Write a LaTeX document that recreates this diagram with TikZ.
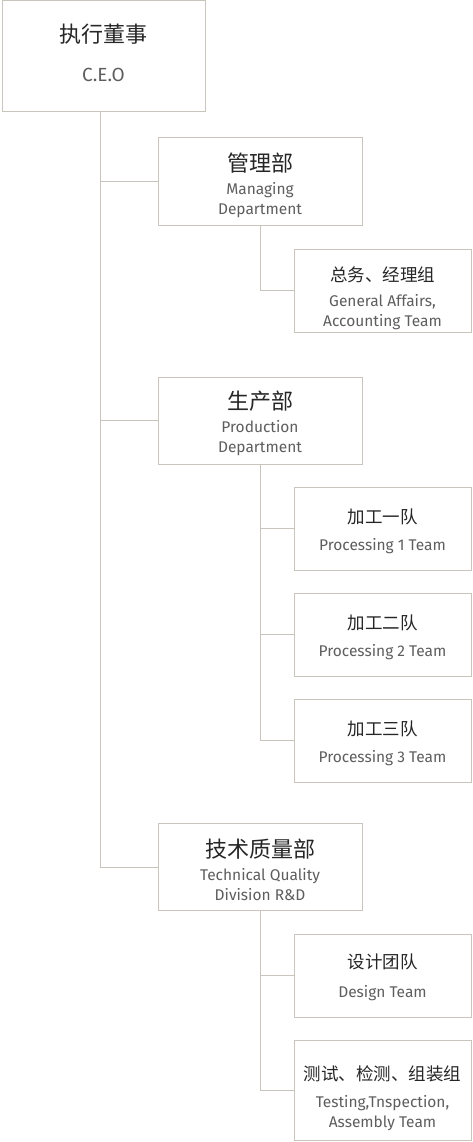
\documentclass[tikz,border=0pt]{standalone}
\usepackage{fontspec}
\setmainfont{Fira Sans}
\newfontfamily\cjk{Noto Sans CJK SC}
\usepackage{tikz}

\definecolor{linegray}{HTML}{C9C5BD}
\definecolor{textgray}{HTML}{5E5E5E}

\tikzset{
  unitbox/.style={draw=linegray, line width=1pt, fill=white, inner sep=0pt},
  topbox/.style={unitbox, minimum width=203pt, minimum height=111pt},
  deptbox/.style={unitbox, minimum width=204pt, minimum height=87pt},
  teambox/.style={unitbox, minimum width=177pt, minimum height=83pt},
  unittext/.style={align=center, inner sep=0pt, text=textgray,
    font=\fontsize{15.5}{20}\selectfont},
  link/.style={draw=linegray, line width=1pt}
}
\newcommand{\zhname}[2]{{\fontsize{#1}{#1}\cjk\color{black!85}#2}}

\begin{document}
\begin{tikzpicture}[x=1pt,y=-1pt]
\useasboundingbox (0,0) rectangle (473,1142);
% boxes
\node[topbox] (ceo) at (103.5,56.5) {};
\node[deptbox] (mgmt) at (260,181.5) {};
\node[teambox] (affairs) at (382.5,290.5) {};
\node[deptbox] (prod) at (260,420.5) {};
\node[teambox] (proc1) at (382.5,528.5) {};
\node[teambox] (proc2) at (382.5,634.5) {};
\node[teambox] (proc3) at (382.5,740.5) {};
\node[deptbox] (tech) at (260,867) {};
\node[teambox] (design) at (382.5,975.5) {};
\node[teambox, minimum height=100pt] (testing) at (382.5,1090) {};
% texts
\node[unittext] (ceo-txt) at ([yshift=4pt]ceo) {\zhname{22}{执行董事}\\[19pt]{\fontsize{19}{20}\selectfont C.E.O}};
\node[unittext] (mgmt-txt) at ([yshift=-3.5pt]mgmt) {\zhname{22}{管理部}\\[3pt]Managing\\Department};
\node[unittext] (affairs-txt) at ([yshift=-7.5pt]affairs) {\zhname{17.5}{总务、经理组}\\[5pt]General Affairs,\\Accounting Team};
\node[unittext] (prod-txt) at ([yshift=-3pt]prod) {\zhname{22}{生产部}\\[3pt]Production\\Department};
\node[unittext] (proc1-txt) at ([yshift=-2.5pt]proc1) {\zhname{17.5}{加工一队}\\[7pt]Processing 1 Team};
\node[unittext] (proc2-txt) at ([yshift=-2.5pt]proc2) {\zhname{17.5}{加工二队}\\[7pt]Processing 2 Team};
\node[unittext] (proc3-txt) at ([yshift=-2.5pt]proc3) {\zhname{17.5}{加工三队}\\[7pt]Processing 3 Team};
\node[unittext] (tech-txt) at ([yshift=-2.5pt]tech) {\zhname{22}{技术质量部}\\[3pt]Technical Quality\\Division R\&D};
\node[unittext] (design-txt) at ([yshift=-2pt]design) {\zhname{17.5}{设计团队}\\[9pt]Design Team};
\node[unittext] (testing-txt) at ([yshift=-8pt]testing) {\zhname{17.5}{测试、检测、组装组}\\[7pt]Testing,Tnspection,\\Assembly Team};
% ceo branches
\coordinate (ceotrunk) at ([xshift=-3.5pt]ceo.south);
\draw[link] (ceotrunk) |- (tech.west);
\draw[link] (ceotrunk |- mgmt.west) -- (mgmt.west);
\draw[link] (ceotrunk |- prod.west) -- (prod.west);
% department branches
\draw[link] (mgmt.south) |- (affairs.west);
\draw[link] (prod.south) |- (proc3.west);
\draw[link] (prod.south |- proc1.west) -- (proc1.west);
\draw[link] (prod.south |- proc2.west) -- (proc2.west);
\draw[link] (tech.south) |- (testing.west);
\draw[link] (tech.south |- design.west) -- (design.west);
\end{tikzpicture}
\end{document}
